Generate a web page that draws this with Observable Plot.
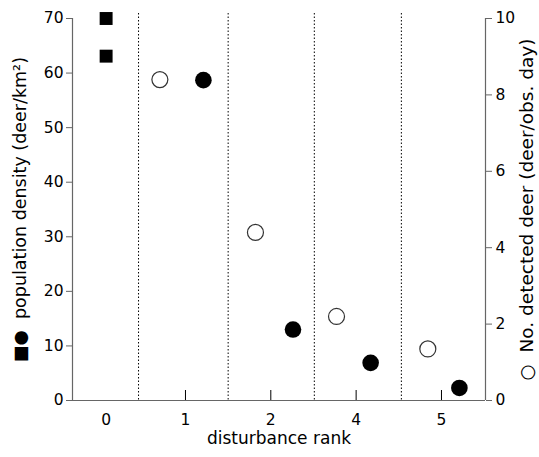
<!DOCTYPE html>
<html>
<head>
<meta charset="utf-8">
<script src="https://cdn.jsdelivr.net/npm/d3@7"></script>
<script src="https://cdn.jsdelivr.net/npm/@observablehq/plot@0.6"></script>
<style>
  html, body { margin: 0; padding: 0; background: #fff; }
  svg { display: block; }
</style>
</head>
<body>
<div id="chart"></div>
<script>
// Tick labels of the disturbance-rank axis and their positions (rank 3 absent)
const rankLabels = ["0", "1", "2", "4", "5"];
const rankPos = [0.07, 1, 2, 3, 4];
// Group separators (dotted)
const dividers = [0.45, 1.5, 2.51, 3.53];
// Population density (deer/km²), squares (rank 0)
const squareX = [0.07, 0.07];
const squareY = [70, 63.1];
// Population density (deer/km²), filled circles
const densityX = [1.21, 2.26, 3.17, 4.21];
const densityY = [58.7, 13.0, 6.9, 2.3];
// No. detected deer (deer/obs. day), open circles (right axis)
const detectX = [0.70, 1.82, 2.77, 3.84];
const detectY = [8.4, 4.4, 2.2, 1.35];
// Axes
const leftTicks = [0, 10, 20, 30, 40, 50, 60, 70];
const rightTicks = [0, 2, 4, 6, 8, 10];
const xDomain = [-0.324, 4.516];
const yDomain = [0, 70];
const ratio = 7; // right axis 10 <-> left axis 70

const squares = squareX.map((x, i) => ({x, y: squareY[i]}));
const density = densityX.map((x, i) => ({x, y: densityY[i]}));
const detect = detectX.map((x, i) => ({x, y: detectY[i] * ratio}));

const font = "'DejaVu Sans', sans-serif";
const axisColor = "#666";

const chart = Plot.plot({
  width: 539,
  height: 457,
  marginLeft: 72,
  marginRight: 54,
  marginTop: 18,
  marginBottom: 57,
  style: {fontFamily: font, fontSize: "15px", color: "#000", background: "#fff"},
  x: {domain: xDomain},
  y: {domain: yDomain},
  marks: [
    Plot.ruleX(dividers, {stroke: "#000", strokeWidth: 1, strokeDasharray: "1.5,2", insetTop: -5}),
    Plot.ruleX([xDomain[0], xDomain[1]], {stroke: axisColor, strokeWidth: 1.2}),
    Plot.ruleY([0], {stroke: axisColor, strokeWidth: 1.2}),
    Plot.axisY({
      anchor: "left", ticks: leftTicks, tickSize: 6, tickPadding: 3, stroke: axisColor,
      label: null, fontSize: 15.5
    }),
    Plot.axisY({
      anchor: "left", ticks: [], label: "■●  population density (deer/km²)", labelAnchor: "center",
      labelArrow: "none", labelOffset: 59, fontSize: 17.5
    }),
    Plot.axisY({
      anchor: "right", ticks: rightTicks.map(d => d * ratio), tickFormat: d => String(d / ratio),
      tickSize: 6, tickPadding: 4, stroke: axisColor, label: null, fontSize: 15.5
    }),
    Plot.axisY({
      anchor: "right", ticks: [], label: "○  No. detected deer (deer/obs. day)", labelAnchor: "center",
      labelArrow: "none", labelOffset: 47, fontSize: 18.5
    }),
    Plot.axisX({anchor: "bottom", ticks: rankPos.slice(1), tickSize: -10, text: null, stroke: "#000", label: null}),
    Plot.axisX({
      anchor: "bottom", ticks: rankPos, tickFormat: (d, i) => rankLabels[i], tickSize: 0, tickPadding: 13,
      label: null, fontSize: 15.5
    }),
    Plot.axisX({
      anchor: "bottom", ticks: [], label: "disturbance rank", labelAnchor: "center",
      labelArrow: "none", labelOffset: 43, fontSize: 17
    }),
    Plot.dot(squares, {x: "x", y: "y", symbol: "square", r: 7.3, fill: "#000", stroke: "none"}),
    Plot.dot(density, {x: "x", y: "y", symbol: "circle", r: 8.3, fill: "#000", stroke: "none"}),
    Plot.dot(detect, {x: "x", y: "y", symbol: "circle", r: 8, fill: "#fff", stroke: "#333", strokeWidth: 1.2})
  ]
});
document.getElementById("chart").appendChild(chart);
</script>
</body>
</html>
